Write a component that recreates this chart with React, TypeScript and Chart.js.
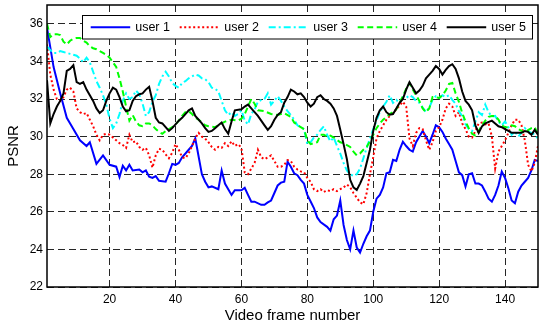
import React, { useEffect, useRef } from 'react';
import { Chart, registerables } from 'chart.js';

Chart.register(...registerables);

const FONT = '"Liberation Sans", Arial, Helvetica, sans-serif';

const xTicks = [20, 40, 60, 80, 100, 120, 140];
const yTicks = [22, 24, 26, 28, 30, 32, 34, 36];
const seriesNames = ['user 1', 'user 2', 'user 3', 'user 4', 'user 5'];
const xTitle = 'Video frame number';
const yTitle = 'PSNR';

// [frame, PSNR]
const user1: [number, number][] = [[1,35.8],[3,33.7],[5,32.3],[7,31.0],[9,30.4],[11,29.8],[13,29.5],[14,29.7],[16,28.55],[18,29.0],[20,28.5],[22,28.4],[23,27.85],[24,28.45],[25,28.2],[26,28.5],[27,28.2],[29,28.25],[30,28.1],[31,28.2],[32,27.87],[33,27.8],[34,27.9],[35,27.65],[37,27.6],[38,28.05],[39,28.55],[40,28.5],[41,28.6],[42,28.9],[44,29.3],[45,29.5],[46,29.9],[48,28.0],[49,27.6],[50,27.3],[51,27.35],[53,27.2],[54,28.2],[55,27.5],[56,27.2],[57,26.9],[58,27.15],[60,27.15],[61,27.28],[62,26.9],[63,26.54],[64,26.54],[66,26.37],[67,26.37],[68,26.5],[69,26.6],[70,27.0],[71,27.4],[72,27.55],[73,27.6],[74,28.67],[75,28.4],[76,28.05],[77,27.95],[78,27.7],[79,27.5],[80,26.9],[81,26.55],[82,26.2],[83,25.7],[84,25.45],[86,25.2],[87,25.0],[88,25.6],[89,25.8],[90,26.6],[91,25.3],[92,24.5],[93,24.0],[94,25.0],[95,24.1],[96,23.83],[97,24.3],[98,24.7],[99,25.0],[100,26.0],[101,26.7],[102,26.9],[103,27.3],[104,28.05],[105,28.1],[106,28.76],[107,28.7],[108,29.3],[109,29.73],[110,29.5],[111,29.3],[112,29.2],[113,29.7],[115,30.3],[116,30.0],[117,29.65],[118,30.1],[119,30.6],[120,30.5],[121,30.25],[122,29.9],[123,29.6],[124,29.3],[125,28.7],[126,28.1],[127,27.95],[128,27.34],[129,28.0],[130,28.05],[131,27.5],[132,27.5],[133,27.4],[134,27.07],[135,26.7],[136,26.54],[137,26.9],[138,27.4],[139,28.14],[140,27.8],[141,27.25],[142,26.6],[143,26.45],[144,27.07],[145,27.4],[146,27.6],[147,27.8],[148,28.2],[149,28.76],[150,28.7]];

const user2: [number, number][] = [[1,34.9],[2,33.3],[3,32.5],[4,32.0],[5,31.9],[6,32.1],[7,32.5],[8,32.6],[9,32.4],[10,31.5],[11,31.3],[12,31.2],[13,31.25],[14,30.9],[15,30.55],[16,30.1],[17,29.8],[18,30.1],[19,30.15],[20,30.1],[21,29.95],[22,29.8],[23,29.65],[24,29.55],[25,29.4],[26,30.1],[27,29.7],[28,29.75],[29,29.45],[30,29.3],[31,29.4],[32,29.0],[33,28.35],[34,29.0],[35,29.35],[36,29.3],[37,29.05],[38,28.85],[39,29.15],[40,29.6],[41,29.3],[42,28.9],[43,28.85],[44,29.1],[45,29.5],[46,29.9],[47,30.2],[48,30.0],[49,29.9],[50,29.7],[51,29.45],[52,29.3],[53,29.45],[54,29.4],[55,29.65],[56,29.5],[57,29.75],[58,29.5],[59,29.6],[60,29.4],[61,28.1],[62,28.0],[63,28.3],[64,28.6],[65,29.3],[66,28.9],[67,28.8],[68,28.9],[69,29.0],[70,28.7],[71,28.4],[72,28.4],[73,28.5],[74,28.75],[75,28.7],[76,28.4],[77,28.25],[78,28.15],[79,28.1],[80,27.8],[81,27.6],[82,27.2],[83,27.1],[84,27.2],[85,27.05],[86,27.15],[87,27.1],[88,27.2],[89,27.1],[90,27.2],[91,27.3],[92,27.45],[93,27.3],[94,27.0],[95,26.75],[96,26.5],[97,26.4],[98,27.0],[99,28.0],[100,28.9],[101,29.9],[102,30.3],[103,30.6],[104,30.9],[105,31.1],[106,31.25],[107,31.45],[108,31.65],[109,31.85],[110,31.6],[111,29.9],[112,29.5],[113,30.2],[114,30.45],[115,30.4],[116,29.8],[117,29.3],[118,29.7],[119,30.3],[120,30.5],[121,30.9],[122,31.5],[123,31.75],[124,31.6],[125,31.1],[126,31.3],[127,30.7],[128,30.4],[129,30.0],[130,29.95],[131,30.3],[132,30.7],[133,30.75],[134,30.65],[135,30.7],[136,30.0],[137,28.3],[138,29.2],[139,29.5],[140,29.8],[141,30.2],[142,30.6],[143,30.9],[144,30.9],[145,30.6],[146,29.8],[147,28.5],[148,28.15],[149,28.6],[150,29.5]];

const user3: [number, number][] = [[1,34.8],[2,34.6],[3,34.45],[4,34.45],[5,34.55],[6,34.5],[7,34.45],[8,34.4],[9,34.35],[10,34.3],[11,34.15],[12,33.95],[13,34.2],[14,33.95],[15,33.45],[16,32.95],[17,32.6],[18,32.2],[19,31.7],[20,30.95],[21,30.45],[22,30.7],[23,31.2],[24,31.9],[25,32.3],[26,32.0],[27,32.1],[28,32.45],[29,32.25],[30,31.75],[31,31.1],[32,31.3],[33,31.85],[34,32.2],[35,32.8],[36,33.2],[37,33.45],[38,33.2],[39,32.85],[40,32.7],[41,32.6],[42,32.85],[43,32.95],[44,33.1],[45,33.2],[46,33.3],[47,33.25],[48,33.1],[49,33.05],[50,32.9],[51,32.6],[52,32.55],[53,32.4],[54,31.9],[55,31.4],[56,31.15],[57,31.3],[58,31.1],[59,31.2],[60,31.4],[61,30.85],[62,30.65],[63,31.2],[64,31.45],[65,31.85],[66,31.95],[67,32.0],[68,32.3],[69,31.7],[70,31.9],[71,32.15],[72,31.9],[73,31.6],[74,31.35],[75,31.15],[76,30.9],[77,30.6],[78,30.5],[79,30.4],[80,29.6],[81,29.7],[82,29.95],[83,30.1],[84,30.35],[85,30.55],[86,30.1],[87,29.75],[88,29.95],[89,29.5],[90,29.1],[91,28.6],[92,28.2],[93,28.0],[94,27.9],[95,28.0],[96,28.3],[97,28.85],[98,29.4],[99,29.9],[100,30.4],[101,30.85],[102,31.3],[103,31.6],[104,31.85],[105,32.2],[106,31.8],[107,31.95],[108,31.8],[109,32.1],[110,32.05],[111,32.2],[112,32.1],[113,31.9],[114,31.8],[115,31.55],[116,31.3],[117,31.55],[118,31.95],[119,32.15],[120,32.05],[121,32.2],[122,32.1],[123,32.2],[124,31.95],[125,31.75],[126,31.35],[127,31.1],[128,30.65],[129,30.4],[130,30.3],[131,30.8],[132,31.3],[133,31.15],[134,31.7],[135,31.3],[136,31.07],[137,31.1],[138,30.8],[139,30.6],[140,30.8],[141,30.5],[142,30.1],[143,30.27],[144,30.0],[145,30.2],[146,30.45],[147,30.27],[148,30.2],[149,30.1],[150,29.9]];

const user4: [number, number][] = [[1,36.0],[2,35.3],[3,35.45],[4,35.45],[5,35.4],[6,35.05],[7,34.9],[8,35.1],[9,35.2],[10,35.25],[11,35.25],[12,35.1],[13,35.0],[14,34.8],[15,34.7],[16,34.65],[17,34.55],[18,34.45],[19,34.35],[20,34.2],[21,33.95],[22,33.7],[23,33.1],[24,32.4],[25,31.6],[26,30.85],[27,31.15],[28,30.8],[29,30.6],[30,30.55],[31,30.7],[32,30.7],[33,30.6],[34,30.4],[35,30.25],[36,30.15],[37,30.3],[38,30.4],[39,30.5],[40,30.65],[41,30.85],[42,31.1],[43,31.3],[44,31.35],[45,31.2],[46,31.0],[47,30.9],[48,30.75],[49,30.6],[50,30.55],[52,30.5],[53,30.6],[55,30.8],[57,30.9],[59,30.85],[60,30.95],[61,31.2],[62,31.6],[63,32.0],[64,31.75],[65,31.4],[67,31.35],[69,31.2],[71,31.15],[73,31.25],[75,31.05],[76,30.75],[78,30.5],[79,30.4],[80,29.8],[81,29.6],[82,29.65],[83,29.7],[84,30.1],[85,30.1],[86,30.0],[87,30.05],[88,29.95],[90,29.7],[91,29.65],[93,29.45],[94,29.2],[95,29.0],[96,29.1],[97,29.3],[98,29.45],[99,29.75],[100,30.1],[101,30.45],[102,30.7],[103,30.9],[104,31.05],[105,31.2],[106,31.3],[107,31.45],[108,31.8],[109,32.15],[110,32.55],[111,32.85],[112,32.5],[113,32.2],[114,31.9],[115,31.5],[116,31.3],[117,31.5],[118,32.1],[119,32.1],[120,32.05],[121,32.2],[122,32.45],[123,32.8],[124,32.85],[125,32.3],[126,31.85],[127,31.25],[128,30.8],[129,30.45],[130,30.15],[131,30.05],[132,30.3],[133,30.6],[134,30.85],[135,31.05],[136,31.1],[137,31.1],[138,30.9],[139,30.6],[140,30.5],[141,30.5],[142,30.6],[143,30.55],[144,30.4],[145,30.3],[146,30.2],[147,30.35],[148,30.45],[149,30.5],[150,30.1]];

const user5: [number, number][] = [[1,33.0],[2,30.7],[3,31.2],[4,31.6],[5,31.9],[6,32.3],[7,33.5],[8,33.6],[9,33.8],[10,32.9],[11,32.8],[12,32.9],[13,32.5],[14,32.2],[15,31.9],[16,31.5],[17,31.25],[18,31.4],[19,31.9],[20,32.3],[21,32.6],[22,32.5],[23,32.1],[24,31.6],[25,31.35],[26,31.4],[27,31.9],[28,32.15],[29,32.25],[30,32.3],[31,32.5],[32,32.65],[33,31.9],[34,31.0],[35,30.75],[36,30.7],[37,30.5],[38,30.3],[39,30.45],[40,30.65],[41,30.85],[42,31.0],[43,31.2],[44,31.4],[45,31.5],[46,31.1],[47,30.9],[48,30.7],[49,30.45],[50,30.25],[51,30.3],[52,30.45],[53,30.6],[54,30.75],[55,30.4],[56,30.15],[57,30.8],[58,31.4],[60,31.45],[61,31.6],[62,31.7],[63,31.5],[64,31.3],[65,31.1],[66,30.85],[67,30.6],[68,30.36],[69,30.55],[70,30.9],[71,31.15],[72,31.3],[73,31.8],[74,32.1],[75,32.5],[76,32.4],[77,32.25],[78,32.3],[79,32.1],[80,31.8],[81,31.6],[82,31.75],[83,32.1],[84,32.2],[85,32.0],[86,31.9],[87,31.75],[88,31.5],[89,31.1],[90,30.36],[91,29.6],[92,28.8],[93,27.7],[94,27.3],[95,27.16],[96,27.5],[97,27.9],[98,28.6],[99,29.3],[100,30.3],[101,31.0],[102,31.4],[103,31.6],[104,31.3],[105,31.16],[106,31.2],[107,31.5],[108,31.8],[109,32.0],[110,32.5],[111,32.9],[112,32.6],[113,32.3],[114,32.45],[115,32.7],[116,33.1],[117,33.3],[118,33.5],[119,33.75],[120,33.6],[121,33.3],[122,33.55],[123,33.75],[124,33.85],[125,33.6],[126,33.1],[127,32.4],[128,31.9],[129,31.7],[130,31.4],[131,30.6],[132,30.2],[133,30.55],[134,30.7],[136,30.85],[137,30.7],[138,30.55],[139,30.5],[140,30.4],[141,30.3],[142,30.2],[144,30.2],[145,30.2],[146,30.3],[147,30.25],[148,30.1],[149,30.36],[150,30.1]];

const seriesData = [user1, user2, user3, user4, user5];
const seriesColors = ['#0000FF', '#FF0000', '#00FFFF', '#00FF00', '#000000'];
const seriesDash: number[][] = [[], [2, 2.5], [7, 3, 2, 3], [6, 3.5], []];

export default function App() {
  const ref = useRef<HTMLCanvasElement | null>(null);

  useEffect(() => {
    document.body.style.margin = '0';
    const canvas = ref.current;
    if (!canvas) return;

    const framePlugin = {
      id: 'frameAndLegend',
      afterDraw(chart: any) {
        const { ctx, chartArea: a } = chart;
        ctx.save();
        ctx.setLineDash([]);
        ctx.strokeStyle = '#000';
        ctx.lineWidth = 1.5;
        ctx.strokeRect(a.left, a.top, a.right - a.left, a.bottom - a.top);

        const lx = 82.5, ly = 15.5, lw = 450, lh = 23.5;
        ctx.fillStyle = '#fff';
        ctx.fillRect(lx, ly, lw, lh);
        ctx.lineWidth = 1;
        ctx.strokeStyle = '#000';
        ctx.strokeRect(lx, ly, lw, lh);
        const cy = ly + lh / 2;
        ctx.font = `12.5px ${FONT}`;
        ctx.textBaseline = 'middle';
        ctx.textAlign = 'left';
        seriesNames.forEach((name, i) => {
          const x0 = 90.7 + 89 * i;
          ctx.beginPath();
          ctx.setLineDash(seriesDash[i]);
          ctx.strokeStyle = seriesColors[i];
          ctx.lineWidth = 2;
          ctx.moveTo(x0, cy);
          ctx.lineTo(x0 + 39.5, cy);
          ctx.stroke();
          ctx.setLineDash([]);
          ctx.fillStyle = '#000';
          ctx.fillText(name, x0 + 44.5, cy + 0.5);
        });
        ctx.restore();
      },
    };

    const gridOpts = {
      color: 'rgba(0,0,0,0.85)',
      lineWidth: 1,
      drawTicks: false,
      borderDash: [7, 4],
    };

    const chart = new Chart(canvas, {
      type: 'line',
      data: {
        datasets: seriesData.map((d, i) => ({
          label: seriesNames[i],
          data: d.map(([x, y]) => ({ x, y })),
          borderColor: seriesColors[i],
          backgroundColor: seriesColors[i],
          borderWidth: 2,
          borderDash: seriesDash[i],
          pointRadius: 0,
          tension: 0,
          fill: false,
          order: 5 - i,
        })),
      },
      options: {
        animation: false,
        responsive: false,
        events: [],
        layout: { padding: { top: 5, right: 1, left: 0, bottom: 0 } },
        plugins: { legend: { display: false }, tooltip: { enabled: false } },
        scales: {
          x: {
            type: 'linear',
            min: 1,
            max: 150,
            afterBuildTicks: (s: any) => {
              s.ticks = xTicks.map((v) => ({ value: v }));
            },
            afterFit: (s: any) => {
              s.height = 44;
              s.paddingLeft = 0;
              s.paddingRight = 0;
            },
            grid: gridOpts,
            border: { display: false, dash: [7, 4] },
            ticks: {
              color: '#000',
              font: { family: FONT, size: 12 },
              padding: 5,
              maxRotation: 0,
              autoSkip: false,
            },
            title: {
              display: true,
              text: xTitle,
              color: '#000',
              font: { family: FONT, size: 15 },
              padding: { top: 0, bottom: 6 },
            },
          },
          y: {
            type: 'linear',
            min: 22,
            max: 37,
            afterBuildTicks: (s: any) => {
              s.ticks = yTicks.map((v) => ({ value: v }));
            },
            afterFit: (s: any) => {
              s.width = 47;
              s.paddingTop = 0;
              s.paddingBottom = 0;
            },
            grid: gridOpts,
            border: { display: false, dash: [7, 4] },
            ticks: {
              color: '#000',
              font: { family: FONT, size: 12 },
              padding: 4,
            },
            title: {
              display: true,
              text: yTitle,
              color: '#000',
              font: { family: FONT, size: 15 },
              padding: { top: 4.5, bottom: 0 },
            },
          },
        },
      } as any,
      plugins: [framePlugin],
    });

    return () => chart.destroy();
  }, []);

  return (
    <div style={{ position: 'fixed', left: 0, top: 0, width: 539, height: 331, background: '#fff' }}>
      <canvas ref={ref} width={539} height={331} style={{ display: 'block', width: 539, height: 331 }} />
    </div>
  );
}
